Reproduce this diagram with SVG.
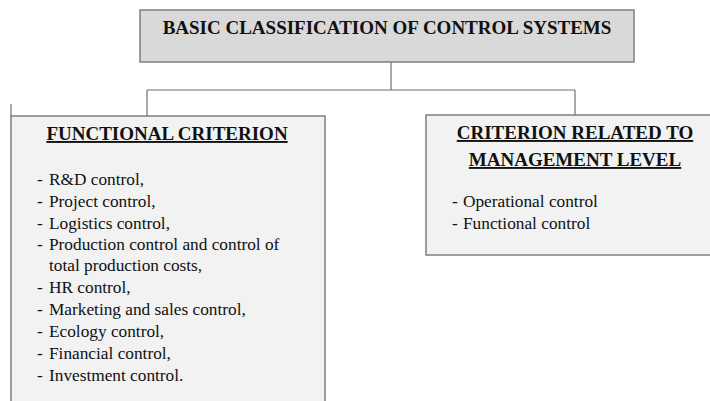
<svg xmlns="http://www.w3.org/2000/svg" width="710" height="401" viewBox="0 0 710 401">
<style>
.box{stroke:#7f7f7f;stroke-width:1.5}
.conn{stroke:#6f6f6f;stroke-width:1.2;fill:none}
.h{font-family:"Liberation Serif","Times New Roman",serif;font-weight:bold;font-size:19px;fill:#111}
.u{text-decoration:underline}
.t{font-family:"Liberation Serif","Times New Roman",serif;font-size:17.3px;fill:#111}
</style>
<rect width="710" height="401" fill="#fff"/>
<g id="connectors">
<path class="conn" d="M391 62V90M147 90H575M147 90V116M575 90V115"/>
<path class="conn" d="M11 104V116"/>
</g>
<g id="title">
<rect class="box" x="140" y="10" width="494" height="52" fill="#d9d9d9"/>
<text class="h" x="387" y="34" text-anchor="middle">BASIC CLASSIFICATION OF CONTROL SYSTEMS</text>
</g>
<g id="functional">
<rect class="box" x="11" y="116" width="314" height="300" fill="#f2f2f2"/>
<text class="h u" x="167" y="140" text-anchor="middle">FUNCTIONAL CRITERION</text>
<g class="t">
<text x="37" y="185">-</text><text x="49" y="185">R&amp;D control,</text>
<text x="37" y="207">-</text><text x="49" y="207">Project control,</text>
<text x="37" y="229">-</text><text x="49" y="229">Logistics control,</text>
<text x="37" y="250">-</text><text x="49" y="250">Production control and control of</text>
<text x="49" y="271">total production costs,</text>
<text x="37" y="293">-</text><text x="49" y="293">HR control,</text>
<text x="37" y="315">-</text><text x="49" y="315">Marketing and sales control,</text>
<text x="37" y="337">-</text><text x="49" y="337">Ecology control,</text>
<text x="37" y="359">-</text><text x="49" y="359">Financial control,</text>
<text x="37" y="381">-</text><text x="49" y="381">Investment control.</text>
</g>
</g>
<g id="management">
<rect class="box" x="426" y="115" width="290" height="140" fill="#f2f2f2"/>
<text class="h u" x="575" y="139" text-anchor="middle">CRITERION RELATED TO</text>
<text class="h u" x="575" y="166" text-anchor="middle">MANAGEMENT LEVEL</text>
<g class="t">
<text x="452" y="207">-</text><text x="463" y="207">Operational control</text>
<text x="452" y="229">-</text><text x="463" y="229">Functional control</text>
</g>
</g>
</svg>
